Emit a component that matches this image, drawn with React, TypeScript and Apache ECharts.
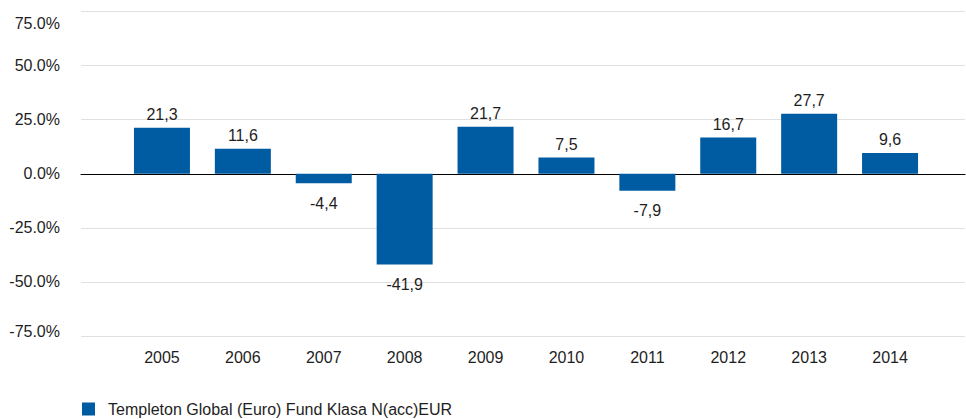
import React, { useEffect, useRef } from "react";
import * as echarts from "echarts";

const categories = ["2005", "2006", "2007", "2008", "2009", "2010", "2011", "2012", "2013", "2014"];
const values = [21.3, 11.6, -4.4, -41.9, 21.7, 7.5, -7.9, 16.7, 27.7, 9.6];
const seriesName = "Templeton Global (Euro) Fund Klasa N(acc)EUR";
const yMin = -75;
const yMax = 75;
const yStep = 25;

const FONT = "'Liberation Sans', Arial, sans-serif";
const FS = 16;
const TEXT = "#1e1e1e";
const BLUE = "#005ca2";

export default function App() {
  const ref = useRef<HTMLDivElement>(null);
  useEffect(() => {
    document.body.style.margin = "0";
    if (!ref.current) return;
    const chart = echarts.init(ref.current, undefined, { renderer: "svg" });
    const data = values.map((v) => ({
      value: v,
      label: { position: v >= 0 ? "top" : "bottom", distance: v >= 0 ? 5 : 12 },
    }));
    chart.setOption({
      animation: false,
      textStyle: { fontFamily: FONT },
      grid: [
        { left: 81, right: 1, top: 11.5, bottom: 83 },
        { left: 121.5, right: 35.5, top: 11.5, bottom: 83 },
      ],
      legend: {
        data: [seriesName],
        left: 82,
        top: 401,
        padding: 0,
        icon: "rect",
        itemWidth: 13,
        itemHeight: 13,
        textStyle: { fontFamily: FONT, fontSize: FS, color: TEXT, padding: [0, 0, 0, 8] },
      },
      xAxis: [
        {
          gridIndex: 0,
          type: "category",
          data: [""],
          axisLine: { show: true, onZero: true, lineStyle: { color: "#000", width: 1 } },
          axisTick: { show: false },
          axisLabel: { show: false },
          splitLine: { show: false },
        },
        {
          gridIndex: 1,
          type: "category",
          data: categories,
          axisLine: { show: false },
          axisTick: { show: false },
          axisLabel: { margin: 13, color: TEXT, fontSize: FS, fontFamily: FONT },
        },
      ],
      yAxis: [
        {
          gridIndex: 0,
          type: "value",
          min: yMin,
          max: yMax,
          interval: yStep,
          axisLine: { show: false },
          axisTick: { show: false },
          splitLine: { lineStyle: { color: "#e0e0e0", width: 1 } },
          axisLabel: {
            margin: 21,
            color: TEXT,
            fontSize: FS,
            fontFamily: FONT,
            formatter: (v: number) => {
              const s = v.toFixed(1) + "%";
              if (v === yMax) return "{top|" + s + "}";
              if (v === yMin) return "{bot|" + s + "}";
              return s;
            },
            rich: {
              top: { fontSize: FS, fontFamily: FONT, color: TEXT, padding: [24, 0, 0, 0] },
              bot: { fontSize: FS, fontFamily: FONT, color: TEXT, padding: [0, 0, 10, 0] },
            },
          },
        },
        {
          gridIndex: 1,
          type: "value",
          min: yMin,
          max: yMax,
          interval: yStep,
          show: false,
          splitLine: { show: false },
        },
      ],
      series: [
        {
          name: seriesName,
          type: "bar",
          xAxisIndex: 1,
          yAxisIndex: 1,
          barWidth: 56,
          itemStyle: { color: BLUE },
          label: {
            show: true,
            color: TEXT,
            fontSize: FS,
            fontFamily: FONT,
            formatter: (p: any) => String(p.value.toFixed(1)).replace(".", ","),
          },
          data,
        },
      ],
    });
    return () => chart.dispose();
  }, []);
  return <div ref={ref} style={{ width: 966, height: 419 }} />;
}
